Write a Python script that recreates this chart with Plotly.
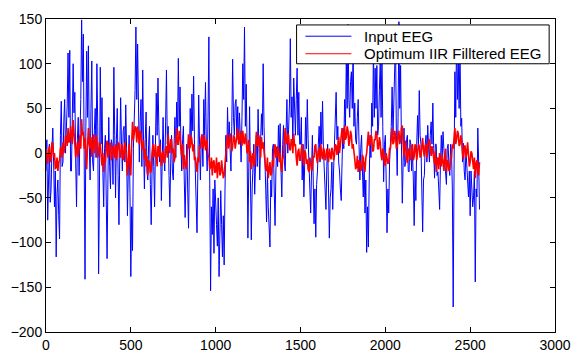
import numpy as np
import plotly.graph_objects as go

# sample index step between stored values
step = 5

input_eeg = [
    -20, 15, -75, -30, 10, -55, -40, 5, 28, -10, -60, -20, -116, -45, -30, -70, -96, 20, 58, -15,
    -10, 35, 60, 0, 20, 55, 112, 40, 115, -20, -20, 30, 100, 45, 68, -10, -60, 15, 40, -25,
    10, 60, 149, 80, 133, 20, -141, 30, 114, 40, 120, 10, -30, 50, 103, -10, -20, 25, 50, -5,
    100, 30, -135, -40, 96, 10, 62, -20, -60, 5, 20, -50, -118, -30, 40, -15, -40, 15, 10, -35,
    96, 20, -50, 15, 50, -25, -80, 0, 62, 10, -20, 25, 30, -10, 54, 5, -70, -20, 20, -45,
    -138, -60, -109, 5, 40, 70, 141, 60, 122, 20, -10, 35, 60, -15, 93, 10, -40, 15, 46, -20,
    -30, 10, 30, -35, -80, -20, 20, -15, -60, 10, 67, 20, 84, 30, -10, 15, -53, -10, 40, -5,
    -20, 35, 93, 10, 30, -25, -60, -10, 20, -20, -30, 10, 40, -5, 57, 20, 106, 30, 74, 10,
    -20, 15, 30, -30, -72, -20, 10, -40, -84, -10, 50, 10, 66, 25, 86, 15, -20, -50, -89, -20,
    65, 10, -30, 15, 20, -15, 60, 20, 79, 10, -20, 40, 130, -30, -154, -60, -91, -40, -112, -30,
    -49, -80, -104, -50, -138, -60, -42, -80, -116, -70, -125, -40, 20, -10, 51, 10, 35, 5, -20, 30,
    105, 40, 20, 55, 60, 15, 52, 10, 45, 20, -10, 40, 100, 60, 141, 30, 77, 10, -95, -20,
    52, -30, -97, -40, -20, 10, -46, -10, 20, -15, 49, 5, -30, 15, 44, 20, 100, 30, 3, -40,
    -77, -20, -60, -90, -105, -30, -49, 5, 10, -40, -81, -20, 7, -15, 31, 0, 33, -20, -49, 10,
    31, -10, -20, 25, 60, 0, 20, 55, 128, 40, 63, 10, 84, 30, 20, 60, 95, 20, 68, 10,
    10, 40, -30, 10, -49, -10, 40, 5, 60, 15, -20, -45, -67, -20, 20, -30, -79, -40, -94, -35,
    -20, 10, 30, -10, 46, 10, 58, 5, -20, -40, -63, -15, 10, -40, -95, -50, -40, -10, -63, -20,
    10, 40, 68, 15, 30, -10, -20, -40, -53, -10, 28, 5, 60, 30, 105, 50, 144, 60, 40, 80,
    91, 50, 120, 30, 56, 15, 10, 40, 60, 10, -30, 5, 20, -20, -49, -10, -67, -30, -111, -60,
    -105, -30, 20, -5, 56, 30, 120, 40, 95, 50, 98, 20, 30, 70, 102, 40, 110, 30, -32, 10,
    20, -30, -89, -40, -67, -10, 10, 30, 74, 20, 56, 90, 130, 20, -25, 40, 147, 50, 98, 10,
    -56, -10, 28, -15, -10, 15, 20, -20, -21, 15, 10, -20, 3, -30, -81, -20, -53, 10, 42, 10,
    70, 20, 10, -40, -88, -30, -25, 10, 20, -10, 31, 5, -10, 20, 35, 10, 56, 5, -28, 10,
    10, -25, -21, -40, -63, -10, 20, -5, 24, 5, -10, -25, -35, 5, 10, -15, -25, 10, 0, -40,
    -172, -20, 91, 40, 135, 60, 100, 50, 120, 30, 39, -10, 11, -20, -30, 5, -14, -35, -49, -20,
    -70, -20, -35, -60, -49, -20, -144, -40, -49, 28, -10, -63,
]

filtered_eeg = [
    5, -8, -12, 2, 8, -10, -5, 12, 10, -5, 0, -18, -15, -5, -20, -10, -8, 5, 7, -5,
    12, 0, 5, 20, 18, 8, 28, 12, 15, 30, 22, 10, 37, 15, 10, -5, 3, 12, -4, 10,
    20, 5, 38, 20, 24, 5, 17, 0, -18, 10, 28, 10, 5, 18, -4, 8, 21, 0, 10, 20,
    15, -5, 0, 12, 10, -8, -14, 0, -21, -5, -10, 8, 14, -5, 0, 12, 10, -8, -4, 8,
    5, -5, 10, -8, 0, 12, 10, -5, -4, 10, 8, -8, -2, 12, 5, -10, -25, -5, 10, -12,
    -25, 10, 35, 15, 21, 30, 28, 12, 30, 15, 10, 25, 22, 5, 5, 15, -7, 5, -15, -3,
    -25, -8, -10, -22, -20, 0, 10, -5, 0, 10, -4, -15, 8, -4, 10, -8, -14, 0, 2, -10,
    -10, 5, 8, -5, 21, 5, 0, 15, 15, 0, 5, -10, -5, 15, 28, 10, 10, 25, 20, 5,
    -4, 10, -18, -2, -8, -18, -12, 5, 21, 5, 7, 20, 15, 2, 10, -8, -4, -15, -21, -5,
    -10, 8, 5, 18, 21, 5, 10, 20, 3, 12, 15, -2, -4, -18, -15, -5, -25, -10, -8, -22,
    -20, -5, -28, -12, -10, -25, -22, -8, -15, -28, -25, -8, -5, 12, 21, 5, 10, 22, 15, 2,
    7, 20, 18, 5, 12, 25, 28, 12, 10, 25, 20, 8, 25, 12, 10, 22, 15, 0, 3, 15,
    -10, 2, -18, -5, 0, -15, -12, 5, 24, 8, 10, 20, 7, -5, 18, 5, 12, 0, -7, -18,
    -20, -5, -28, -15, -10, -25, -22, -8, -15, 5, 10, -5, -4, 8, 5, -10, 0, -15, -21, -5,
    -5, 15, 28, 12, 10, 22, 20, 5, 3, 15, 15, 0, 22, 8, 10, -5, -14, 2, 5, -8,
    -8, 5, 10, -5, -14, 3, 0, -12, -7, -18, -21, -5, -10, -20, -18, -3, -5, 8, 10, -6,
    -11, 2, 5, -8, 10, -3, -7, 6, 3, -8, -5, 5, 0, -10, 5, -3, -7, 6, 3, -8,
    -3, 10, 8, -2, 10, 18, 0, 12, 14, 28, 20, 10, 31, 15, 18, 30, 25, 8, 14, 25,
    20, 5, 10, -5, -7, -18, -15, -3, -21, -8, -10, -20, -18, -2, -5, -15, -21, -5, 0, 12,
    24, 8, 10, 20, 18, 2, 3, 15, 15, 25, 20, 5, 5, 18, 12, -2, -8, 5, 0, -12,
    -14, 0, -5, -12, -10, 5, 5, 18, 28, 10, 12, 25, 20, 5, 7, 22, 25, 10, 15, 28,
    31, 10, -4, 8, 14, -5, -11, 3, 5, -8, -5, 8, 10, -8, -4, 10, 5, -8, 0, 10,
    8, -5, -2, 12, 17, 2, -4, 8, 10, -5, 5, 15, 15, 0, -3, 8, 0, -10, -12, 2,
    -21, -8, -5, -18, 0, -12, -15, -2, -8, -20, -4, 5, -21, -8, -10, -20, -18, -5, -5, 10,
    5, 18, 28, 10, 15, 25, 22, 8, 10, 20, 14, 0, -7, 8, 8, -5, 0, 12, -5, -15,
    -10, 2, 0, -15, -18, -5, -28, -12, -8, -22, -25, -10,
]

series_names = ["Input EEG", "Optimum IIR Filltered EEG"]
series_colors = ["#0000FF", "#FF0000"]
series_widths = [1, 1.6]

x_ticks = [0, 500, 1000, 1500, 2000, 2500, 3000]
y_ticks = [-200, -150, -100, -50, 0, 50, 100, 150]

samples_in = np.arange(len(input_eeg)) * step
samples_f = np.arange(len(filtered_eeg)) * step

fig = go.Figure()
for xs, ys, name, color, width in zip([samples_in, samples_f],
                                      [input_eeg, filtered_eeg],
                                      series_names, series_colors, series_widths):
    fig.add_trace(go.Scatter(x=xs, y=ys, mode="lines", name=name,
                             showlegend=False,
                             line=dict(color=color, width=width)))

font_family = "Liberation Sans, Arial, Helvetica"
axis_common = dict(showgrid=False, zeroline=False, showline=True,
                   linecolor="black", linewidth=1, mirror="allticks",
                   ticks="inside", ticklen=5, tickcolor="black",
                   tickfont=dict(family=font_family, size=14, color="black"))

# MATLAB-style legend box (compact), placed in paper coordinates
leg_x0, leg_x1, leg_y0, leg_y1 = 0.4923, 0.9885, 0.857, 0.981
leg_line_x0, leg_line_x1, leg_text_x = 0.5096, 0.600, 0.621
leg_rows = [0.945, 0.889]

shapes = [dict(type="rect", xref="paper", yref="paper",
               x0=leg_x0, x1=leg_x1, y0=leg_y0, y1=leg_y1,
               fillcolor="white", line=dict(color="black", width=1), layer="above")]
annotations = []
for row_y, name, color in zip(leg_rows, series_names, series_colors):
    shapes.append(dict(type="line", xref="paper", yref="paper",
                       x0=leg_line_x0, x1=leg_line_x1, y0=row_y, y1=row_y,
                       line=dict(color=color, width=1), layer="above"))
    annotations.append(dict(xref="paper", yref="paper", x=leg_text_x, y=row_y,
                            xanchor="left", yanchor="middle", showarrow=False,
                            text=name,
                            font=dict(family=font_family, size=15, color="black")))

fig.update_layout(
    width=582, height=364,
    margin=dict(l=46, r=16, t=11, b=21),
    paper_bgcolor="white", plot_bgcolor="white",
    font=dict(family=font_family, size=14, color="black"),
    xaxis=dict(range=[0, 3000], tickvals=x_ticks, **axis_common),
    yaxis=dict(range=[-200, 150], tickvals=y_ticks, **axis_common),
    shapes=shapes,
    annotations=annotations,
    showlegend=False,
)

fig.write_html("out.html")
